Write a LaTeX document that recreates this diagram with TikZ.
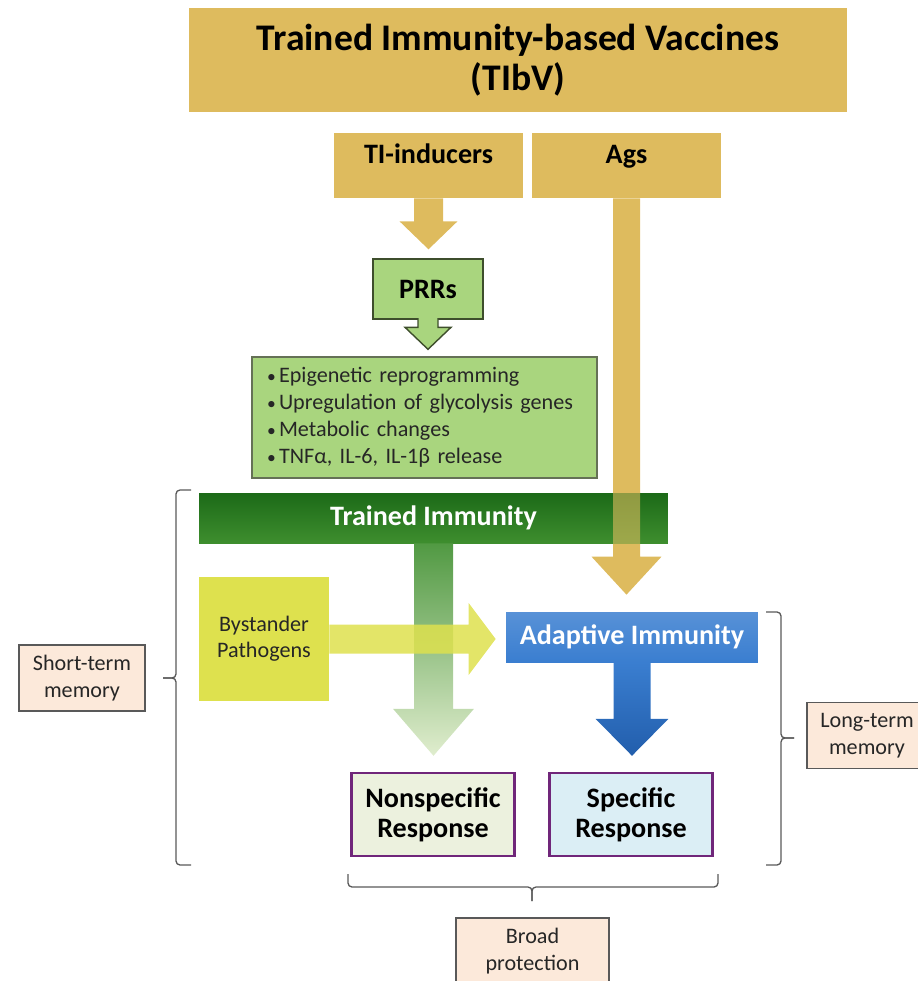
\documentclass[tikz,border=0pt]{standalone}
\usepackage{fontspec}
\setmainfont{Carlito}
\usetikzlibrary{calc}

\definecolor{vacgold}{RGB}{222,187,94}
\definecolor{prrgreen}{RGB}{169,213,126}
\definecolor{prredge}{RGB}{62,78,44}
\definecolor{tidark}{RGB}{28,106,24}
\definecolor{tilight}{RGB}{62,142,46}
\definecolor{fadegreen}{RGB}{224,237,206}
\definecolor{bystyellow}{RGB}{222,225,78}
\definecolor{adaptblue}{RGB}{58,126,208}
\definecolor{deepblue}{RGB}{34,94,172}
\definecolor{respurple}{RGB}{112,38,122}
\definecolor{nonspecfill}{RGB}{236,241,222}
\definecolor{specfill}{RGB}{219,238,245}
\definecolor{memopeach}{RGB}{252,233,218}
\definecolor{edgegray}{RGB}{89,89,89}

\newcommand{\bitem}{\makebox[0.24cm][l]{\fontsize{10}{10}\selectfont•}}

% block arrow pointing down: style, from, to, shaft half width, head half width, head length
\newcommand{\downblock}[6]{%
  \path[#1] let \p1=(#2), \p2=(#3) in
    (\x1-#4,\y1) -- (\x1-#4,\y2+#6) -- (\x1-#5,\y2+#6) -- (\x1,\y2)
    -- (\x1+#5,\y2+#6) -- (\x1+#4,\y2+#6) -- (\x1+#4,\y1);}
% block arrow pointing right
\newcommand{\rightblock}[6]{%
  \path[#1] let \p1=(#2), \p2=(#3) in
    (\x1,\y1+#4) -- (\x2-#6,\y1+#4) -- (\x2-#6,\y1+#5) -- (\x2,\y1)
    -- (\x2-#6,\y1-#5) -- (\x2-#6,\y1-#4) -- (\x1,\y1-#4);}

\begin{document}
\begin{tikzpicture}[x=0.02cm, y=-0.02cm,
  every node/.style={inner sep=0pt, align=center},
  goldbox/.style={fill=vacgold, minimum width=3.78cm, minimum height=1.3cm,
    font=\bfseries\fontsize{16}{17}\selectfont, text height=0.45cm, text depth=0.55cm},
  lightbox/.style={fill=memopeach, draw=edgegray, line width=0.8pt,
    minimum height=1.32cm, font=\fontsize{12.6}{15}\selectfont, text=black!85},
  resbox/.style={draw=respurple, line width=1.4pt, minimum width=3.26cm,
    minimum height=1.66cm, font=\bfseries\fontsize{16}{17}\selectfont},
  brc/.style={draw=edgegray, line width=0.75pt, rounded corners=0.08cm}]

\useasboundingbox (0,0) rectangle (917,981);

% Vaccine boxes
\node[fill=vacgold, minimum width=13.16cm, minimum height=2.08cm,
  font=\bfseries\fontsize{21.4}{22.7}\selectfont] (tibv) at (518,60)
  {Trained Immunity-based Vaccines\\(TIbV)};
\node[goldbox] (tii) at (428.5,165.5) {TI-inducers};
\node[goldbox] (ags) at (626.5,165.5) {Ags};

% Innate side
\node[fill=prrgreen, draw=prredge, line width=0.8pt, minimum width=2.2cm,
  minimum height=1.2cm, font=\bfseries\fontsize{16}{17}\selectfont] (prr) at (428,289) {PRRs};
\node[fill=prrgreen, draw=prredge!80, line width=0.8pt, text width=6.3cm,
  inner xsep=0.3cm, minimum height=2.42cm, align=left,
  font=\fontsize{12.6}{15.3}\selectfont, text=black!85] (bul) at (424.5,417.5)
  {\bitem Epigenetic reprogramming\\
   \bitem Upregulation of glycolysis genes\\
   \bitem Metabolic changes\\
   \bitem TNFα, IL-6, IL-1β release};

\node[fill=bystyellow, minimum width=2.6cm, minimum height=2.48cm,
  font=\fontsize{12.6}{15}\selectfont, text=black!85] (byst) at (264,639) {Bystander\\Pathogens};
\node[top color=adaptblue!85!white, bottom color=adaptblue, minimum width=5.04cm,
  minimum height=1cm, text=white, font=\bfseries\fontsize{16}{17}\selectfont] (adapt) at (632,637)
  {Adaptive Immunity};

% Responses
\node[resbox, fill=nonspecfill] (nonspec) at (433,814.5) {Nonspecific\\Response};
\node[resbox, fill=specfill] (spec) at (631,814.5) {Specific\\Response};

% Memory labels
\node[lightbox, minimum width=2.52cm] (stm) at (82,678) {Short-term\\memory};
\node[lightbox, minimum width=2.4cm] (ltm) at (867,735.5) {Long-term\\memory};
\node[lightbox, minimum width=3.06cm] (broad) at (532.5,951) {Broad\\protection};

% Ags arrow
\coordinate (agstip) at ($(adapt.north)+(0,-17)$);
\downblock{fill=vacgold}{ags.south}{agstip}{0.27cm}{0.7cm}{0.76cm}

\node[top color=tidark, bottom color=tilight, minimum width=9.38cm, minimum height=1cm,
  text=white, font=\bfseries\fontsize{16}{17}\selectfont] (ti) at (433.5,518) {Trained Immunity};

\begin{scope}
  \clip (ti.south west) rectangle (ti.north east);
  \downblock{fill=vacgold, opacity=0.6}{ags.south}{agstip}{0.27cm}{0.7cm}{0.76cm}
\end{scope}

% Block arrows
\coordinate (greentip) at ($(nonspec.north)+(0,-16)$);
\downblock{top color=tilight!90!white, bottom color=fadegreen}{ti.south}{greentip}{0.39cm}{0.81cm}{0.94cm}

\coordinate (bysttip) at ($(adapt.west)+(-10,0)$);
\rightblock{fill=bystyellow, opacity=0.85}{byst.east}{bysttip}{0.29cm}{0.72cm}{0.54cm}

\coordinate (bluetip) at ($(spec.north)+(0,-16)$);
\downblock{top color=adaptblue, bottom color=deepblue}{adapt.south}{bluetip}{0.37cm}{0.73cm}{0.74cm}

\coordinate (tiitip) at ($(prr.north)+(0,-9)$);
\downblock{fill=vacgold}{tii.south}{tiitip}{0.29cm}{0.58cm}{0.56cm}

\coordinate (prrtop) at ($(prr.south)+(0,-1.5)$);
\coordinate (prrtip) at ($(bul.north)+(0,-7)$);
\downblock{fill=prrgreen, draw=prredge, line width=0.8pt}{prrtop}{prrtip}{0.2cm}{0.46cm}{0.44cm}

% Braces
\draw[brc] (191,490) -- (176,490) -- (176,678) -- (163,678);
\draw[brc] (163,678) -- (176,678) -- (176,865) -- (191,865);
\draw[brc] (766,612) -- (781,612) -- (781,738) -- (794,738);
\draw[brc] (794,738) -- (781,738) -- (781,865) -- (766,865);
\draw[brc] (348,874) -- (348,887) -- (532,887) -- (532,901);
\draw[brc] (532,901) -- (532,887) -- (718,887) -- (718,874);

\end{tikzpicture}
\end{document}
